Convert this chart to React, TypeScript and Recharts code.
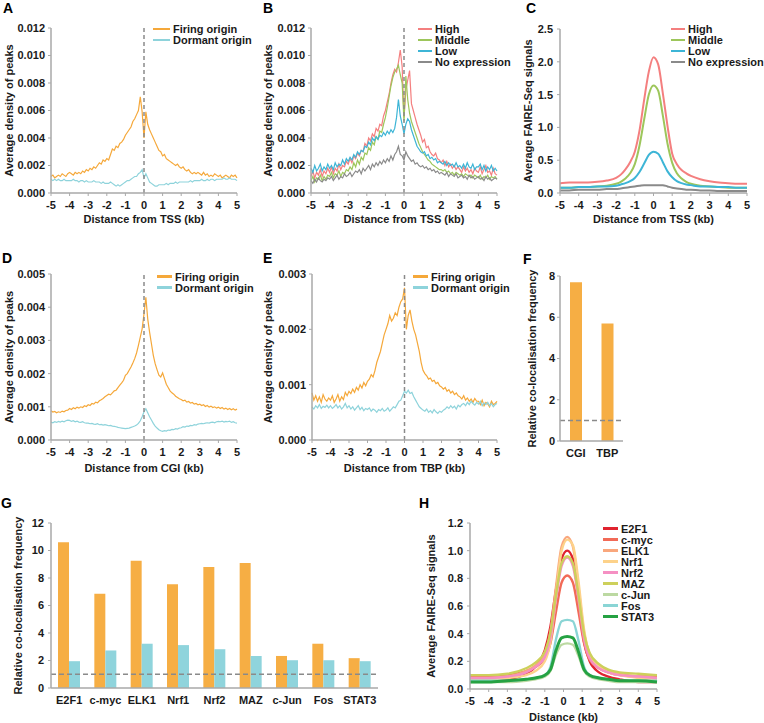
import { LineChart, Line, BarChart, Bar, XAxis, YAxis, ReferenceLine, Legend } from 'recharts';

// distance bins (kb) for the noisy peak-density profiles
const bins = [
  -5, -4.9, -4.8, -4.7, -4.6, -4.5, -4.4, -4.3, -4.2, -4.1,
  -4, -3.9, -3.8, -3.7, -3.6, -3.5, -3.4, -3.3, -3.2, -3.1,
  -3, -2.9, -2.8, -2.7, -2.6, -2.5, -2.4, -2.3, -2.2, -2.1,
  -2, -1.9, -1.8, -1.7, -1.6, -1.5, -1.4, -1.3, -1.2, -1.1,
  -1, -0.9, -0.8, -0.7, -0.6, -0.5, -0.4, -0.3, -0.2, -0.1,
  0, 0.1, 0.2, 0.3, 0.4, 0.5, 0.6, 0.7, 0.8, 0.9,
  1, 1.1, 1.2, 1.3, 1.4, 1.5, 1.6, 1.7, 1.8, 1.9,
  2, 2.1, 2.2, 2.3, 2.4, 2.5, 2.6, 2.7, 2.8, 2.9,
  3, 3.1, 3.2, 3.3, 3.4, 3.5, 3.6, 3.7, 3.8, 3.9,
  4, 4.1, 4.2, 4.3, 4.4, 4.5, 4.6, 4.7, 4.8, 4.9, 5,
];
const kbTicks = [-5, -4, -3, -2, -1, 0, 1, 2, 3, 4, 5];

// A: origins around TSS
const firingA = [
  0.0012, 0.0013, 0.0011, 0.0012, 0.0013, 0.0012, 0.0014, 0.0013, 0.0012, 0.0014,
  0.0015, 0.0014, 0.0013, 0.0015, 0.0014, 0.0015, 0.0014, 0.0016, 0.0015, 0.0017,
  0.0016, 0.0018, 0.0017, 0.0019, 0.0018, 0.002, 0.0022, 0.0021, 0.0024, 0.0023,
  0.0025, 0.0024, 0.0028, 0.0032, 0.0031, 0.0034, 0.0033, 0.0036, 0.0037, 0.0039,
  0.0042, 0.0044, 0.0046, 0.0048, 0.0052, 0.0054, 0.0057, 0.006, 0.007, 0.0059,
  0.004, 0.0059, 0.005, 0.0046, 0.0043, 0.004, 0.0037, 0.0034, 0.0031, 0.003,
  0.0027, 0.0028, 0.0025, 0.0024, 0.0023, 0.0022, 0.0021, 0.002, 0.0021, 0.0019,
  0.0018, 0.0019, 0.0017, 0.0016, 0.0017, 0.0015, 0.0014, 0.0015, 0.0014, 0.0015,
  0.0014, 0.0013, 0.0015, 0.0013, 0.0014, 0.0012, 0.0013, 0.0012, 0.0014, 0.0013,
  0.0012, 0.0013, 0.0011, 0.0012, 0.0013, 0.0012, 0.0011, 0.0013, 0.0012, 0.0013, 0.0011,
];
const dormantA = [
  0.001, 0.0009, 0.001, 0.0009, 0.001, 0.0009, 0.0009, 0.001, 0.0009, 0.0009,
  0.0009, 0.0009, 0.001, 0.0009, 0.0009, 0.0008, 0.0009, 0.0009, 0.0008, 0.0009,
  0.0008, 0.0008, 0.0008, 0.0009, 0.0008, 0.0008, 0.0008, 0.0007, 0.0008, 0.0007,
  0.0007, 0.0007, 0.0008, 0.0007, 0.0006, 0.0005, 0.0006, 0.0005, 0.0006, 0.0007,
  0.0008, 0.0009, 0.0009, 0.001, 0.0011, 0.0012, 0.0012, 0.0014, 0.0015, 0.0017,
  0.0011, 0.0014, 0.0011, 0.0008, 0.0007, 0.0006, 0.0005, 0.0005, 0.0006, 0.0006,
  0.0006, 0.0006, 0.0007, 0.0006, 0.0007, 0.0007, 0.0007, 0.0008, 0.0007, 0.0008,
  0.0008, 0.0008, 0.0008, 0.0008, 0.0008, 0.0009, 0.0008, 0.0009, 0.0009, 0.0009,
  0.0009, 0.001, 0.0009, 0.0009, 0.001, 0.0009, 0.001, 0.001, 0.0009, 0.001,
  0.001, 0.001, 0.001, 0.0011, 0.001, 0.001, 0.0011, 0.001, 0.001, 0.001, 0.0009,
];

// B: origins around TSS by expression level
const highB = [
  0.0012, 0.0016, 0.0011, 0.0015, 0.0013, 0.0017, 0.0012, 0.0016, 0.0014, 0.0018,
  0.0015, 0.0019, 0.0014, 0.0018, 0.0016, 0.0021, 0.0017, 0.002, 0.0019, 0.0023,
  0.0021, 0.0025, 0.0022, 0.0027, 0.0025, 0.0029, 0.0027, 0.0031, 0.003, 0.0036,
  0.0034, 0.004, 0.0038, 0.0043, 0.0041, 0.0047, 0.0045, 0.005, 0.0049, 0.0056,
  0.006, 0.0066, 0.0072, 0.008, 0.0086, 0.009, 0.0088, 0.0095, 0.0104, 0.0092,
  0.0055, 0.0075, 0.0082, 0.0089, 0.0065, 0.006, 0.0055, 0.005, 0.0046, 0.0042,
  0.0037, 0.0039, 0.0033, 0.0034, 0.003, 0.0028, 0.0027, 0.0029, 0.0025, 0.0024,
  0.0022, 0.0024, 0.002, 0.0023, 0.0019, 0.0021, 0.0018, 0.002, 0.0017, 0.0019,
  0.0017, 0.0015, 0.0019, 0.0016, 0.0018, 0.0015, 0.0017, 0.0014, 0.0018, 0.0016,
  0.0015, 0.0019, 0.0014, 0.0017, 0.002, 0.0015, 0.0016, 0.0013, 0.0018, 0.0014, 0.0013,
];
const middleB = [
  0.0009, 0.0012, 0.0008, 0.0011, 0.001, 0.0013, 0.0009, 0.0012, 0.001, 0.0013,
  0.0012, 0.0015, 0.0011, 0.0014, 0.0013, 0.0016, 0.0012, 0.0015, 0.0014, 0.0017,
  0.0016, 0.0019, 0.0017, 0.0022, 0.0019, 0.0024, 0.0021, 0.0026, 0.0024, 0.0029,
  0.0028, 0.0033, 0.0031, 0.0037, 0.0035, 0.0041, 0.0039, 0.0045, 0.0044, 0.005,
  0.0055, 0.0062, 0.007, 0.0078, 0.0084, 0.0088, 0.009, 0.0093, 0.0086, 0.008,
  0.0052, 0.0085, 0.0068, 0.0058, 0.0052, 0.0048, 0.0044, 0.004, 0.0036, 0.0033,
  0.003, 0.0028, 0.0026, 0.0024, 0.0023, 0.0021, 0.002, 0.0019, 0.0018, 0.0017,
  0.0017, 0.0016, 0.0017, 0.0015, 0.0016, 0.0014, 0.0015, 0.0013, 0.0015, 0.0014,
  0.0013, 0.0014, 0.0012, 0.0014, 0.0013, 0.0012, 0.0013, 0.0011, 0.0013, 0.0012,
  0.0011, 0.0013, 0.001, 0.0012, 0.0011, 0.0013, 0.001, 0.0012, 0.0011, 0.0012, 0.001,
];
const lowB = [
  0.0018, 0.0015, 0.002, 0.0016, 0.0018, 0.0021, 0.0016, 0.0019, 0.0017, 0.0021,
  0.0018, 0.002, 0.0017, 0.0022, 0.0019, 0.0021, 0.002, 0.0024, 0.0021, 0.0025,
  0.0023, 0.0026, 0.0024, 0.0028, 0.0026, 0.003, 0.0028, 0.0031, 0.003, 0.0034,
  0.0033, 0.0037, 0.0035, 0.004, 0.0038, 0.0041, 0.0039, 0.0042, 0.0041, 0.0044,
  0.0042, 0.0045, 0.0043, 0.0046, 0.0044, 0.0047, 0.0055, 0.0068, 0.0056, 0.005,
  0.0043, 0.005, 0.0054, 0.0052, 0.0046, 0.0042, 0.0038, 0.0034, 0.0032, 0.003,
  0.0029, 0.003, 0.0027, 0.0028, 0.0025, 0.0026, 0.0024, 0.0025, 0.0022, 0.0023,
  0.0022, 0.0021, 0.0023, 0.002, 0.0022, 0.002, 0.0021, 0.0019, 0.0022, 0.0019,
  0.002, 0.0018, 0.0021, 0.0018, 0.0022, 0.0019, 0.0018, 0.0021, 0.0017, 0.0019,
  0.0019, 0.0021, 0.0017, 0.002, 0.0016, 0.0019, 0.0017, 0.002, 0.0016, 0.0018, 0.0016,
];
const noneB = [
  0.0009, 0.0007, 0.001, 0.0008, 0.0011, 0.0009, 0.0008, 0.001, 0.0009, 0.0011,
  0.001, 0.0012, 0.0009, 0.0011, 0.0013, 0.001, 0.0012, 0.0011, 0.0014, 0.0012,
  0.0013, 0.0015, 0.0012, 0.0014, 0.0016, 0.0015, 0.0017, 0.0014, 0.0018, 0.0016,
  0.0018, 0.002, 0.0017, 0.0021, 0.0019, 0.0022, 0.002, 0.0023, 0.0021, 0.0024,
  0.0022, 0.0025, 0.0023, 0.0027, 0.0024, 0.0028, 0.003, 0.0034, 0.0028, 0.0027,
  0.0024, 0.003, 0.0027, 0.0025, 0.0023, 0.0024, 0.0021, 0.0022, 0.002, 0.0019,
  0.002, 0.0018, 0.0019, 0.0017, 0.0018, 0.0016, 0.0017, 0.0015, 0.0016, 0.0014,
  0.0015, 0.0014, 0.0013, 0.0015, 0.0012, 0.0014, 0.0013, 0.0012, 0.0014, 0.0011,
  0.0012, 0.0013, 0.0011, 0.0012, 0.001, 0.0013, 0.0011, 0.0012, 0.001, 0.0011,
  0.0012, 0.001, 0.0011, 0.0009, 0.0012, 0.001, 0.0011, 0.0009, 0.001, 0.0011, 0.001,
];

// C: FAIRE-Seq signal around TSS
const cX = [-5, -4.5, -4, -3.5, -3, -2.5, -2, -1.75, -1.5, -1.25, -1, -0.75, -0.5, -0.25, 0, 0.25, 0.5, 0.75, 1, 1.25, 1.5, 1.75, 2, 2.5, 3, 3.5, 4, 4.5, 5];
const highC = [0.15, 0.16, 0.16, 0.16, 0.17, 0.19, 0.23, 0.28, 0.36, 0.47, 0.63, 0.95, 1.42, 1.85, 2.07, 1.96, 1.52, 1.02, 0.6, 0.44, 0.35, 0.3, 0.26, 0.21, 0.18, 0.16, 0.15, 0.14, 0.14];
const middleC = [0.08, 0.08, 0.09, 0.09, 0.1, 0.11, 0.14, 0.17, 0.22, 0.3, 0.44, 0.72, 1.12, 1.5, 1.64, 1.56, 1.18, 0.75, 0.46, 0.3, 0.22, 0.17, 0.14, 0.11, 0.1, 0.09, 0.08, 0.08, 0.08];
const lowC = [0.08, 0.08, 0.09, 0.09, 0.1, 0.1, 0.11, 0.13, 0.15, 0.18, 0.23, 0.32, 0.45, 0.58, 0.63, 0.6, 0.47, 0.33, 0.24, 0.18, 0.15, 0.13, 0.12, 0.1, 0.1, 0.09, 0.09, 0.08, 0.08];
const noneC = [0.04, 0.04, 0.05, 0.05, 0.05, 0.06, 0.06, 0.07, 0.08, 0.09, 0.1, 0.11, 0.12, 0.12, 0.12, 0.12, 0.12, 0.1, 0.08, 0.07, 0.06, 0.05, 0.05, 0.04, 0.04, 0.03, 0.03, 0.03, 0.03];

// D: origins around CGI
const firingD = [
  0.00088, 0.00084, 0.00086, 0.00082, 0.00085, 0.00083, 0.00087, 0.00085, 0.00089, 0.0009,
  0.00095, 0.00092, 0.00097, 0.00094, 0.00099, 0.00096, 0.001, 0.00098, 0.00103, 0.00101,
  0.00106, 0.00104, 0.0011, 0.00108, 0.00114, 0.00112, 0.00118, 0.00121, 0.00125, 0.0013,
  0.00134, 0.00138, 0.00136, 0.00142, 0.00148, 0.0015, 0.00158, 0.00165, 0.00172, 0.0018,
  0.00195, 0.002, 0.0021, 0.0022, 0.00232, 0.00245, 0.00262, 0.00285, 0.0031, 0.00335,
  0.0038, 0.0043, 0.00365, 0.00325, 0.0029, 0.00255, 0.0023, 0.00212, 0.00195, 0.0019,
  0.00202, 0.00185, 0.00168, 0.00158, 0.00148, 0.00142, 0.00138, 0.00132, 0.00128, 0.00124,
  0.00122, 0.00118, 0.0012, 0.00114, 0.00116, 0.00111, 0.00113, 0.00108, 0.0011, 0.00106,
  0.00108, 0.00104, 0.00106, 0.00101, 0.00104, 0.00099, 0.00102, 0.00098, 0.001, 0.00096,
  0.00099, 0.00095, 0.00098, 0.00093, 0.00096, 0.00092, 0.00095, 0.00091, 0.00094, 0.0009, 0.00093,
];
const dormantD = [
  0.00054, 0.00052, 0.00055, 0.00053, 0.00056, 0.00054, 0.00057, 0.00055, 0.00058, 0.0006,
  0.00059, 0.00056, 0.00058, 0.00055, 0.00057, 0.00054, 0.00053, 0.00055, 0.00052, 0.00051,
  0.00051, 0.00049, 0.0005, 0.00048, 0.00047, 0.00049, 0.00046, 0.00047, 0.00045, 0.00046,
  0.00045, 0.00043, 0.00044, 0.00042, 0.00041, 0.0004, 0.00038, 0.00037, 0.00036, 0.00035,
  0.00034, 0.00035, 0.00036, 0.00038, 0.0004, 0.00042, 0.00045, 0.0005, 0.00058, 0.0007,
  0.00085, 0.00094, 0.00082, 0.0007, 0.0006, 0.0005, 0.00042, 0.00036, 0.00031, 0.00028,
  0.00026, 0.00028, 0.00027, 0.0003, 0.00029, 0.00032, 0.00031, 0.00034, 0.00033, 0.00036,
  0.00037, 0.0004, 0.00039, 0.00042, 0.00041, 0.00044, 0.00043, 0.00046, 0.00045, 0.00048,
  0.00049, 0.0005, 0.00049, 0.00051, 0.00052, 0.00051, 0.00053, 0.00054, 0.00052, 0.00055,
  0.00056, 0.00055, 0.00057, 0.00054, 0.00056, 0.00055, 0.00057, 0.00053, 0.00055, 0.00052, 0.00051,
];

// E: origins around TBP
const firingE = [
  0.00085, 0.00072, 0.0008, 0.0007, 0.00078, 0.00068, 0.00082, 0.00074, 0.0007, 0.00076,
  0.00072, 0.0008, 0.00068, 0.00074, 0.00082, 0.0007, 0.00078, 0.00073, 0.00086, 0.0008,
  0.00088, 0.00084, 0.00092, 0.00086, 0.00095, 0.0009, 0.001, 0.00094, 0.00104, 0.00098,
  0.00106, 0.0011, 0.00118, 0.00114, 0.00125, 0.0014, 0.0015, 0.0016, 0.00175, 0.0019,
  0.002, 0.0021, 0.00225, 0.00215, 0.0022, 0.0023, 0.00225, 0.0024, 0.0025, 0.00255,
  0.00275, 0.002, 0.00225, 0.00235, 0.00215, 0.002, 0.0019, 0.00175, 0.0016, 0.0014,
  0.00126, 0.0012, 0.00116, 0.0011, 0.00112, 0.00106, 0.00108, 0.00102, 0.00104, 0.00098,
  0.00096, 0.00092, 0.00095, 0.00088, 0.00091, 0.00085, 0.00088, 0.00082, 0.00085, 0.0008,
  0.00078, 0.00074, 0.0008, 0.00072, 0.00076, 0.0007, 0.00074, 0.00068, 0.00075, 0.0007,
  0.0007, 0.00064, 0.00072, 0.00062, 0.00068, 0.00065, 0.0006, 0.0007, 0.00064, 0.00066, 0.0007,
];
const dormantE = [
  0.0006, 0.00056, 0.00062, 0.00058, 0.00064, 0.00057, 0.00061, 0.00059, 0.00063, 0.00058,
  0.00062, 0.00057, 0.0006, 0.00064, 0.00058, 0.00062, 0.00056, 0.0006, 0.00066, 0.00058,
  0.00062, 0.00056, 0.0006, 0.00054, 0.00058, 0.00062, 0.00055, 0.00059, 0.00053, 0.00057,
  0.00055, 0.00058, 0.00052, 0.00056, 0.00054, 0.0005, 0.00055, 0.00053, 0.00057, 0.00052,
  0.00054, 0.00058, 0.00052, 0.00056, 0.0006, 0.00058, 0.00064, 0.0007, 0.00072, 0.0008,
  0.00088, 0.00085, 0.0009, 0.00084, 0.00086, 0.00078, 0.00072, 0.00066, 0.0006, 0.00057,
  0.00054, 0.00052, 0.00056, 0.0005, 0.00053, 0.00049, 0.00055, 0.00051, 0.00048, 0.00052,
  0.0005, 0.00054, 0.00056, 0.0006, 0.00057, 0.00062, 0.00058, 0.00061, 0.00056, 0.00063,
  0.0006, 0.00064, 0.00066, 0.00062, 0.00068, 0.00064, 0.0007, 0.00066, 0.00063, 0.00068,
  0.00065, 0.0007, 0.00062, 0.00067, 0.00064, 0.00068, 0.00062, 0.00066, 0.0006, 0.00064, 0.00066,
];

// F: co-localisation with CGI / TBP
const fCategories = ['CGI', 'TBP'];
const fValues = [7.7, 5.7];

// G: co-localisation with transcription factors
const tfNames = ['E2F1', 'c-myc', 'ELK1', 'Nrf1', 'Nrf2', 'MAZ', 'c-Jun', 'Fos', 'STAT3'];
const gFiring = [10.6, 6.85, 9.25, 7.55, 8.8, 9.1, 2.33, 3.22, 2.17];
const gDormant = [1.95, 2.73, 3.22, 3.12, 2.82, 2.33, 2.02, 2.02, 1.95];

// H: FAIRE-Seq signal around TF sites
const hX = [-5, -4, -3, -2, -1.5, -1, -0.7, -0.4, -0.1, 0.2, 0.5, 0.8, 1.1, 1.4, 1.9, 2.4, 3, 4, 5];
const hE2F1 = [0.06, 0.06, 0.07, 0.11, 0.16, 0.28, 0.45, 0.72, 0.94, 1.0, 0.94, 0.66, 0.34, 0.2, 0.12, 0.09, 0.07, 0.05, 0.05];
const hCmyc = [0.09, 0.09, 0.1, 0.13, 0.16, 0.22, 0.33, 0.56, 0.77, 0.82, 0.77, 0.56, 0.33, 0.21, 0.15, 0.12, 0.1, 0.09, 0.09];
const hElk1 = [0.08, 0.08, 0.09, 0.13, 0.17, 0.25, 0.41, 0.74, 1.03, 1.1, 1.03, 0.74, 0.41, 0.25, 0.17, 0.13, 0.11, 0.09, 0.08];
const hNrf1 = [0.07, 0.07, 0.08, 0.1, 0.13, 0.2, 0.34, 0.68, 1.0, 1.08, 1.04, 0.78, 0.43, 0.25, 0.16, 0.12, 0.1, 0.08, 0.07];
const hNrf2 = [0.08, 0.08, 0.09, 0.12, 0.16, 0.23, 0.37, 0.65, 0.89, 0.95, 0.89, 0.65, 0.36, 0.22, 0.15, 0.12, 0.1, 0.09, 0.08];
const hMaz = [0.1, 0.1, 0.11, 0.15, 0.19, 0.27, 0.41, 0.68, 0.91, 0.96, 0.91, 0.68, 0.4, 0.26, 0.18, 0.14, 0.12, 0.11, 0.1];
const hCjun = [0.05, 0.05, 0.05, 0.06, 0.07, 0.09, 0.13, 0.25, 0.32, 0.33, 0.32, 0.24, 0.13, 0.09, 0.07, 0.06, 0.05, 0.05, 0.05];
const hFos = [0.06, 0.06, 0.06, 0.07, 0.08, 0.1, 0.16, 0.36, 0.49, 0.5, 0.49, 0.35, 0.16, 0.1, 0.08, 0.07, 0.06, 0.06, 0.06];
const hStat3 = [0.05, 0.05, 0.06, 0.07, 0.08, 0.1, 0.14, 0.28, 0.37, 0.38, 0.37, 0.27, 0.14, 0.1, 0.08, 0.07, 0.06, 0.06, 0.05];

const FIRING = '#F5A83A';
const DORMANT = '#8ED3DB';
const HIGH = '#F47F7F';
const MIDDLE = '#9DC65B';
const LOW = '#3DB5D6';
const NONE = '#8A8A8A';
const INK = '#1a1a1a';
const AXIS = '#a9a9a9';

const tickFont = { fontSize: 11, fontWeight: 700, fill: INK };
const titleFont = { fontSize: 11, fontWeight: 700, fill: INK };

type Series = { key: string; name: string; color: string; values: number[]; width?: number };

type LegendSpec = { x: number; y: number; swatch: number; thick: number };

function LegendBlock({ items, swatch, thick }: { items: Series[]; swatch: number; thick: number }) {
  return (
    <div style={{ fontSize: 11, fontWeight: 700, color: INK, whiteSpace: 'nowrap' }}>
      {items.map((s) => (
        <div key={s.key} style={{ display: 'flex', alignItems: 'center', height: 11 }}>
          <span style={{ display: 'inline-block', width: swatch, height: thick, background: s.color, marginRight: 3 }} />
          <span>{s.name}</span>
        </div>
      ))}
    </div>
  );
}

interface ProfileProps {
  left: number;
  top: number;
  width: number;
  height: number;
  mTop: number;
  mRight: number;
  xHeight: number;
  xs: number[];
  series: Series[];
  smooth?: boolean;
  zeroLine?: boolean;
  yMax: number;
  yTicks: number[];
  yDigits: number;
  yGap: number;
  yLabel: string;
  yLabelOffset: number;
  xLabel: string;
  xLabelOffset: number;
  legend: LegendSpec;
}

function ProfilePanel(p: ProfileProps) {
  const rows = p.xs.map((x, i) => {
    const row: Record<string, number> = { x };
    p.series.forEach((s) => {
      row[s.key] = s.values[i];
    });
    return row;
  });
  return (
    <div style={{ position: 'absolute', left: p.left, top: p.top }}>
      <LineChart width={p.width} height={p.height} data={rows} margin={{ top: p.mTop, right: p.mRight, bottom: 0, left: 0 }}>
        <XAxis
          dataKey="x"
          type="number"
          domain={[-5, 5]}
          ticks={kbTicks}
          interval={0}
          height={p.xHeight}
          tickSize={3}
          tickMargin={5}
          axisLine={{ stroke: AXIS, strokeWidth: 1.5 }}
          tickLine={{ stroke: AXIS }}
          tick={tickFont}
          label={{ value: p.xLabel, position: 'insideBottom', offset: p.xLabelOffset, style: titleFont }}
        />
        <YAxis
          type="number"
          domain={[0, p.yMax]}
          ticks={p.yTicks}
          interval={0}
          width={51}
          tickSize={3}
          tickMargin={p.yGap}
          tickFormatter={(v: number) => v.toFixed(p.yDigits)}
          axisLine={{ stroke: AXIS, strokeWidth: 1.5 }}
          tickLine={{ stroke: AXIS }}
          tick={tickFont}
          label={{
            value: p.yLabel,
            angle: -90,
            position: 'insideLeft',
            offset: p.yLabelOffset,
            style: { ...titleFont, textAnchor: 'middle' },
          }}
        />
        {p.series.map((s) => (
          <Line
            key={s.key}
            type={p.smooth ? 'monotone' : 'linear'}
            dataKey={s.key}
            name={s.name}
            stroke={s.color}
            strokeWidth={s.width ?? 1.2}
            dot={false}
            activeDot={false}
            isAnimationActive={false}
          />
        ))}
        {p.zeroLine && <ReferenceLine x={0} stroke="#8a8a8a" strokeWidth={1.5} strokeDasharray="4 3" />}
        <Legend
          layout="vertical"
          align="center"
          verticalAlign="middle"
          wrapperStyle={{ left: p.legend.x, top: p.legend.y, width: 'auto' }}
          content={() => <LegendBlock items={p.series} swatch={p.legend.swatch} thick={p.legend.thick} />}
        />
      </LineChart>
    </div>
  );
}

function Letter({ x, y, children }: { x: number; y: number; children: string }) {
  return (
    <div style={{ position: 'absolute', left: x, top: y, fontSize: 14, lineHeight: '14px', fontWeight: 700, color: '#000' }}>
      {children}
    </div>
  );
}

const originSeries = (f: number[], d: number[]): Series[] => [
  { key: 'firing', name: 'Firing origin', color: FIRING, values: f },
  { key: 'dormant', name: 'Dormant origin', color: DORMANT, values: d },
];

const densityTicks12 = [0, 0.002, 0.004, 0.006, 0.008, 0.01, 0.012];

export default function App() {
  const fRows = fCategories.map((name, i) => ({ name, value: fValues[i] }));
  const gRows = tfNames.map((name, i) => ({ name, firing: gFiring[i], dormant: gDormant[i] }));

  const hSeries: Series[] = [
    { key: 'e2f1', name: 'E2F1', color: '#E0232F', values: hE2F1, width: 2.4 },
    { key: 'cmyc', name: 'c-myc', color: '#F26A57', values: hCmyc, width: 2.4 },
    { key: 'elk1', name: 'ELK1', color: '#F9A77D', values: hElk1, width: 2.4 },
    { key: 'nrf1', name: 'Nrf1', color: '#FDD28A', values: hNrf1, width: 2.4 },
    { key: 'nrf2', name: 'Nrf2', color: '#F590C3', values: hNrf2, width: 2.4 },
    { key: 'maz', name: 'MAZ', color: '#CDD05B', values: hMaz, width: 2.4 },
    { key: 'cjun', name: 'c-Jun', color: '#BCD9A2', values: hCjun, width: 2.4 },
    { key: 'fos', name: 'Fos', color: '#8AD5D5', values: hFos, width: 2.4 },
    { key: 'stat3', name: 'STAT3', color: '#25A243', values: hStat3, width: 3 },
  ];

  return (
    <div
      style={{
        position: 'absolute',
        left: 0,
        top: 0,
        width: 764,
        height: 723,
        background: '#fff',
        overflow: 'hidden',
        fontFamily: '"Liberation Sans", Arial, sans-serif',
      }}
    >
      <ProfilePanel
        left={0} top={0} width={260} height={229} mTop={28} mRight={23} xHeight={36}
        xs={bins} series={originSeries(firingA, dormantA)} zeroLine
        yMax={0.012} yTicks={densityTicks12} yDigits={3} yGap={3}
        yLabel="Average density of peaks" yLabelOffset={9}
        xLabel="Distance from TSS (kb)" xLabelOffset={6}
        legend={{ x: 153, y: 23.5, swatch: 17, thick: 2.5 }}
      />
      <ProfilePanel
        left={260} top={0} width={260} height={229} mTop={28} mRight={23} xHeight={36}
        xs={bins}
        series={[
          { key: 'high', name: 'High', color: HIGH, values: highB },
          { key: 'middle', name: 'Middle', color: MIDDLE, values: middleB },
          { key: 'low', name: 'Low', color: LOW, values: lowB },
          { key: 'none', name: 'No expression', color: NONE, values: noneB },
        ]}
        zeroLine
        yMax={0.012} yTicks={densityTicks12} yDigits={3} yGap={3}
        yLabel="Average density of peaks" yLabelOffset={8}
        xLabel="Distance from TSS (kb)" xLabelOffset={6}
        legend={{ x: 158, y: 23.5, swatch: 14, thick: 2.5 }}
      />
      <ProfilePanel
        left={509} top={0} width={255} height={229} mTop={29} mRight={17} xHeight={36}
        xs={cX} smooth
        series={[
          { key: 'high', name: 'High', color: HIGH, values: highC, width: 2 },
          { key: 'middle', name: 'Middle', color: MIDDLE, values: middleC, width: 2 },
          { key: 'low', name: 'Low', color: LOW, values: lowC, width: 2 },
          { key: 'none', name: 'No expression', color: NONE, values: noneC, width: 2 },
        ]}
        yMax={2.5} yTicks={[0, 0.5, 1, 1.5, 2, 2.5]} yDigits={1} yGap={4}
        yLabel="Average FAIRE-Seq signals" yLabelOffset={19}
        xLabel="Distance from TSS (kb)" xLabelOffset={6}
        legend={{ x: 162, y: 23.5, swatch: 14, thick: 2.5 }}
      />
      <ProfilePanel
        left={0} top={246} width={260} height={230} mTop={28} mRight={23} xHeight={36}
        xs={bins} series={originSeries(firingD, dormantD)} zeroLine
        yMax={0.005} yTicks={[0, 0.001, 0.002, 0.003, 0.004, 0.005]} yDigits={3} yGap={3}
        yLabel="Average density of peaks" yLabelOffset={9}
        xLabel="Distance from CGI (kb)" xLabelOffset={4}
        legend={{ x: 157, y: 25, swatch: 15, thick: 2.5 }}
      />
      <ProfilePanel
        left={261} top={246} width={259} height={230} mTop={28} mRight={23} xHeight={36}
        xs={bins} series={originSeries(firingE, dormantE)} zeroLine
        yMax={0.003} yTicks={[0, 0.001, 0.002, 0.003]} yDigits={3} yGap={3}
        yLabel="Average density of peaks" yLabelOffset={7}
        xLabel="Distance from TBP (kb)" xLabelOffset={4}
        legend={{ x: 152, y: 25, swatch: 15, thick: 2.5 }}
      />

      <div style={{ position: 'absolute', left: 509, top: 248 }}>
        <BarChart width={124} height={229} data={fRows} margin={{ top: 28, right: 10, bottom: 0, left: 0 }}>
          <XAxis
            dataKey="name"
            interval={0}
            height={36}
            tickSize={3}
            tickMargin={5}
            axisLine={{ stroke: AXIS, strokeWidth: 1.5 }}
            tickLine={false}
            tick={tickFont}
          />
          <YAxis
            type="number"
            domain={[0, 8]}
            ticks={[0, 2, 4, 6, 8]}
            interval={0}
            width={51}
            tickSize={3}
            tickMargin={2}
            axisLine={{ stroke: AXIS, strokeWidth: 1.5 }}
            tickLine={{ stroke: AXIS }}
            tick={tickFont}
            label={{
              value: 'Relative co-localisation frequency',
              angle: -90,
              position: 'insideLeft',
              offset: 23,
              style: { ...titleFont, textAnchor: 'middle' },
            }}
          />
          <Bar dataKey="value" name="Firing origin" fill="#F6AE44" barSize={12} isAnimationActive={false} />
          <ReferenceLine y={1} stroke="#8a8a8a" strokeWidth={1.5} strokeDasharray="5 3" />
        </BarChart>
      </div>

      <div style={{ position: 'absolute', left: 0, top: 495 }}>
        <BarChart width={390} height={218} data={gRows} margin={{ top: 28, right: 12, bottom: 0, left: 0 }} barGap={0}>
          <XAxis
            dataKey="name"
            interval={0}
            height={25}
            tickSize={3}
            tickMargin={5}
            axisLine={{ stroke: AXIS, strokeWidth: 1.5 }}
            tickLine={false}
            tick={tickFont}
          />
          <YAxis
            type="number"
            domain={[0, 12]}
            ticks={[0, 2, 4, 6, 8, 10, 12]}
            interval={0}
            width={51}
            tickSize={3}
            tickMargin={4}
            axisLine={{ stroke: AXIS, strokeWidth: 1.5 }}
            tickLine={{ stroke: AXIS }}
            tick={tickFont}
            label={{
              value: 'Relative co-localisation frequency',
              angle: -90,
              position: 'insideLeft',
              offset: 18,
              style: { ...titleFont, textAnchor: 'middle' },
            }}
          />
          <Bar dataKey="firing" name="Firing origin" fill="#F6AE44" barSize={11} isAnimationActive={false} />
          <Bar dataKey="dormant" name="Dormant origin" fill="#8FD4DC" barSize={11} isAnimationActive={false} />
          <ReferenceLine y={1} stroke="#8a8a8a" strokeWidth={1.5} strokeDasharray="5 3" />
        </BarChart>
      </div>

      <ProfilePanel
        left={419} top={495} width={258} height={228} mTop={28} mRight={20} xHeight={34}
        xs={hX} smooth series={hSeries}
        yMax={1.2} yTicks={[0, 0.2, 0.4, 0.6, 0.8, 1, 1.2]} yDigits={1} yGap={4}
        yLabel="Average FAIRE-Seq signals" yLabelOffset={12}
        xLabel="Distance (kb)" xLabelOffset={2}
        legend={{ x: 184, y: 28, swatch: 15, thick: 3 }}
      />

      <Letter x={3} y={1}>A</Letter>
      <Letter x={263} y={1}>B</Letter>
      <Letter x={526} y={1}>C</Letter>
      <Letter x={2} y={250.5}>D</Letter>
      <Letter x={263} y={250.5}>E</Letter>
      <Letter x={523} y={252}>F</Letter>
      <Letter x={1} y={496}>G</Letter>
      <Letter x={419} y={496}>H</Letter>
    </div>
  );
}
